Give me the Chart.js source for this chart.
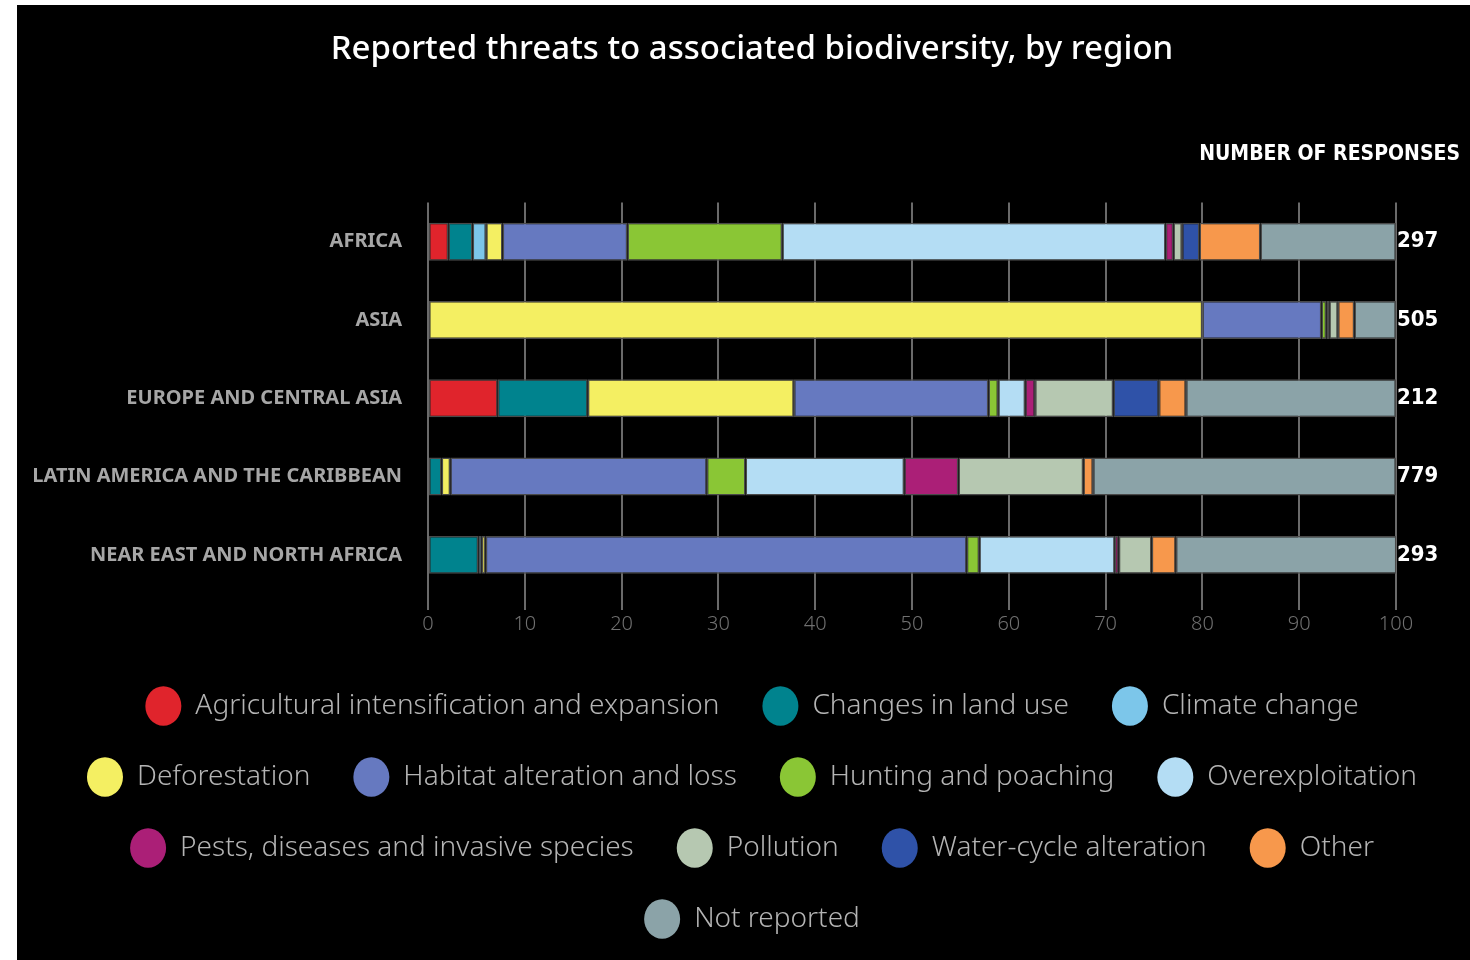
<!DOCTYPE html>
<html>
<head>
<meta charset="utf-8">
<script src="https://cdn.jsdelivr.net/npm/chart.js@4.4.1/dist/chart.umd.min.js"></script>
<style>
  html, body { margin: 0; padding: 0; background: #fff; }
  #wrap { position: absolute; left: 17px; top: 5px; width: 1453px; height: 955px; background: #000; }
  canvas { display: block; }
</style>
</head>
<body>
<div id="wrap"><canvas id="chart" width="1453" height="955"></canvas></div>
<script>
// regions shown on the y axis, top to bottom
const regions = [
  "AFRICA",
  "ASIA",
  "EUROPE AND CENTRAL ASIA",
  "LATIN AMERICA AND THE CARIBBEAN",
  "NEAR EAST AND NORTH AFRICA",
];
const responses = [297, 505, 212, 779, 293];
const xTicks = [0, 10, 20, 30, 40, 50, 60, 70, 80, 90, 100];

const threats = [
  "Agricultural intensification and expansion",
  "Changes in land use",
  "Climate change",
  "Deforestation",
  "Habitat alteration and loss",
  "Hunting and poaching",
  "Overexploitation",
  "Pests, diseases and invasive species",
  "Pollution",
  "Water-cycle alteration",
  "Other",
  "Not reported",
];
const colors = [
  "#e0242c", "#00838e", "#7cc6ea", "#f4ef62", "#6679c0", "#8ac635",
  "#b4ddf4", "#ab1f77", "#b6c8b1", "#2f52a8", "#f7984c", "#8ba3a8",
];

// share of responses (%) per threat, one value per region
const agricultural = [2.1, 0, 7.2, 0, 0];
const landUse = [2.5, 0, 9.3, 1.4, 5.2];
const climate = [1.4, 0, 0, 0, 0.35];
const deforestation = [1.7, 80.0, 21.3, 0.9, 0.4];
const habitat = [12.9, 12.3, 20.1, 26.5, 49.7];
const hunting = [16.0, 0.5, 1.0, 4.0, 1.3];
const overexploitation = [39.6, 0.3, 2.8, 16.4, 14.0];
const pests = [0.8, 0, 1.0, 5.6, 0.4];
const pollution = [0.9, 0.9, 8.1, 12.9, 3.4];
const waterCycle = [1.8, 0, 4.7, 0, 0];
const other = [6.3, 1.7, 2.8, 1.0, 2.5];
const notReported = [14.0, 4.3, 21.7, 31.3, 22.8];

const series = [
  agricultural, landUse, climate, deforestation, habitat, hunting,
  overexploitation, pests, pollution, waterCycle, other, notReported,
];

const datasets = threats.map((name, i) => ({
  label: name,
  data: series[i],
  backgroundColor: colors[i],
  borderColor: "#4a4a4a",
  borderWidth: 1.5,
  borderSkipped: false,
  barPercentage: 0.97,
  categoryPercentage: 0.5,
}));

// column header above the response totals
const headerPlugin = {
  id: "header",
  afterDraw(chart) {
    const { ctx } = chart;
    ctx.save();
    ctx.fillStyle = "#fff";
    ctx.font = "bold 21px 'Liberation Sans Narrow', 'DejaVu Sans Condensed', sans-serif";
    ctx.textBaseline = "middle";
    ctx.textAlign = "right";
    ctx.fillText("NUMBER OF RESPONSES", chart.width - 10, 150);
    ctx.restore();
  },
};

new Chart(document.getElementById("chart"), {
  type: "bar",
  data: { labels: regions, datasets },
  plugins: [headerPlugin],
  options: {
    indexAxis: "y",
    responsive: false,
    animation: false,
    layout: { padding: { left: 17, right: 0, top: 0, bottom: 17 } },
    scales: {
      x: {
        stacked: true,
        min: 0,
        max: 100,
        afterBuildTicks: (scale) => {
          scale.ticks = xTicks.map((v) => ({ value: v }));
        },
        afterFit: (scale) => { scale.height += 11; },
        grid: { color: "#6a6a6a", lineWidth: 2, tickLength: 16 },
        border: { display: false },
        ticks: {
          color: "#707070",
          font: { family: "'Noto Sans', sans-serif", size: 20, weight: 300 },
          padding: 2,
        },
      },
      y: {
        stacked: true,
        grid: { display: false, drawTicks: false },
        border: { display: false },
        afterFit: (scale) => { scale.width = 394; },
        ticks: {
          color: "#a6a6a6",
          padding: 26,
          font: { family: "'Noto Sans', sans-serif", size: 20, weight: "bold" },
        },
      },
      totals: {
        type: "category",
        axis: "y",
        position: "right",
        offset: true,
        grid: { display: false, drawTicks: false },
        border: { display: false },
        afterFit: (scale) => { scale.width = 74; },
        ticks: {
          color: "#fff",
          padding: 1,
          callback: (value, index) => String(responses[index]),
          font: { family: "'Liberation Sans Narrow', 'DejaVu Sans Condensed', sans-serif", size: 22, weight: "bold" },
        },
      },
    },
    plugins: {
      title: {
        display: true,
        text: "Reported threats to associated biodiversity, by region",
        color: "#fff",
        font: { family: "'Noto Sans', sans-serif", size: 33, weight: 500 },
        padding: { top: 25, bottom: 133 },
      },
      legend: {
        position: "bottom",
        labels: {
          color: "#b4b4b4",
          usePointStyle: true,
          pointStyle: "circle",
          pointStyleWidth: 36,
          boxHeight: 28,
          padding: 43,
          font: { family: "'Noto Sans', sans-serif", size: 28, weight: 300 },
          generateLabels: (chart) =>
            Chart.defaults.plugins.legend.labels.generateLabels(chart).map((l) => ({
              ...l,
              lineWidth: 0,
              strokeStyle: l.fillStyle,
            })),
        },
      },
      tooltip: { enabled: false },
    },
  },
});
</script>
</body>
</html>
